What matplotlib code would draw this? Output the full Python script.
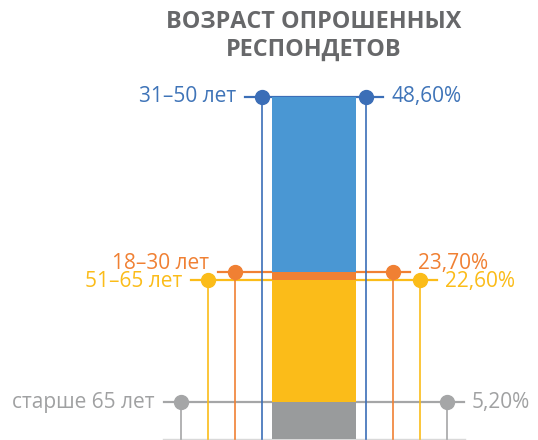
import matplotlib.pyplot as plt

plt.rcParams['font.family'] = ['Open Sans', 'DejaVu Sans']

# data
categories = ['31–50 лет', '18–30 лет', '51–65 лет', 'старше 65 лет']
shares = [48.6, 23.7, 22.6, 5.2]
value_labels = ['48,60%', '23,70%', '22,60%', '5,20%']
title = 'ВОЗРАСТ ОПРОШЕННЫХ\nРЕСПОНДЕТОВ'

bar_colors = ['#4a97d3', '#f08033', '#fbbc19', '#999b9c']
line_colors = ['#3b6eb7', '#f08033', '#fbbc19', '#a5a6a7']
text_colors = ['#3f74b8', '#f08033', '#fbbc19', '#a0a1a2']
label_nudge = [0, 6.5, -1.2, 0]   # points, to keep close labels apart

px_per_unit = 7.04
fig = plt.figure(figsize=(5.38, 4.40), dpi=100)
ax = fig.add_axes([0, 0, 1, 1])
ax.set_xlim(-314, 224)
ax.set_ylim(-1 / px_per_unit, 439 / px_per_unit)
ax.axis('off')

half_w = 42
order = sorted(range(len(shares)), key=lambda i: -shares[i])

# light baseline
ax.plot([-151, 151], [0, 0], color='#d9d9d9', lw=1, zorder=0)

for rank, i in enumerate(order):
    v = shares[i]
    off = half_w + 10 + 27 * rank
    # horizontal guide behind the bar
    ax.plot([-off - 17, off + 17], [v, v], color=line_colors[i], lw=1.6, zorder=1)
    # bar, larger values behind smaller ones
    ax.bar(0, v, width=2 * half_w, color=bar_colors[i], zorder=2 + rank)
    # drop lines and dots
    for side in (-1, 1):
        ax.plot([side * off, side * off], [0, v], color=line_colors[i], lw=1.2, zorder=10)
        ax.plot(side * off, v, 'o', color=line_colors[i], ms=10, zorder=11)
    ax.annotate(categories[i], (-off - 26, v), xytext=(0, label_nudge[i]),
                textcoords='offset points', ha='right', va='center',
                fontsize=15, color=text_colors[i])
    ax.annotate(value_labels[i], (off + 25, v), xytext=(0, label_nudge[i]),
                textcoords='offset points', ha='left', va='center',
                fontsize=15, color=text_colors[i])

fig.text(314 / 538, 1 - 36 / 440, title, ha='center', va='center',
         fontsize=16.8, fontweight='bold', color='#67686a', linespacing=1.2)

fig.savefig('out.png', dpi=100)
